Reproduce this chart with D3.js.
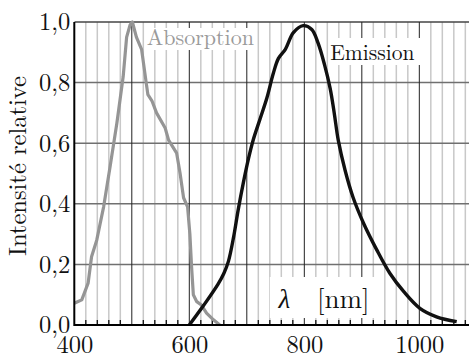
<!DOCTYPE html>
<html><head><meta charset="utf-8">
<script src="https://cdn.jsdelivr.net/npm/d3@7"></script>
<style>html,body{margin:0;padding:0;background:#fff;overflow:hidden}</style>
</head><body>
<svg id="c" width="469" height="354"></svg>
<script>
// ---- data ----
const absorptionNm  = [400,413,424,430,439,451,462,474,485,491,497,501,508,517,525,528,535,543,558,564,578,584,590,597,601,604,607,613,621,630,642,653];
const absorptionVal = [0.072,0.083,0.138,0.225,0.28,0.39,0.52,0.666,0.82,0.95,0.99,1.0,0.95,0.91,0.80,0.76,0.74,0.70,0.65,0.61,0.567,0.50,0.42,0.39,0.30,0.19,0.10,0.077,0.066,0.039,0.017,0.0];
const emissionNm  = [600,625,650,660,668,677,685,694,703,711,723,735,746,755,767,781,798,813,824,835,845,852,859,871,885,903,926,949,973,1001,1030,1065];
const emissionVal = [0,0.065,0.135,0.17,0.21,0.29,0.38,0.47,0.55,0.61,0.68,0.75,0.83,0.88,0.91,0.965,0.988,0.975,0.93,0.86,0.78,0.70,0.61,0.51,0.42,0.336,0.248,0.17,0.11,0.055,0.027,0.011];
const xTicks = [400,600,800,1000];
const yTicks = [0,0.2,0.4,0.6,0.8,1.0];
const yTickLabels = ["0,0","0,2","0,4","0,6","0,8","1,0"];
const labels = {absorption:"Absorption", emission:"Emission", yTitle:"Intensité relative", lambda:"λ", unit:"[nm]"};

// ---- layout ----
const FONT = '"Latin Modern Roman","Liberation Serif",serif';
const svg = d3.select("#c");
const x = d3.scaleLinear().domain([400,1085]).range([74.3,468.2]);
const y = d3.scaleLinear().domain([0,1]).range([325,22]);

svg.append("defs").append("clipPath").attr("id","clip")
  .append("rect").attr("x",x(400)).attr("y",0).attr("width",469-x(400)).attr("height",y(0)+1);

const g = svg.append("g").attr("clip-path","url(#clip)");

// minor vertical grid (every 20 nm)
const minor = d3.range(420,1090,20).filter(v=>v%100!==0);
g.selectAll(".minor").data(minor).enter().append("line")
  .attr("x1",d=>x(d)).attr("x2",d=>x(d)).attr("y1",y(1)).attr("y2",y(0))
  .attr("stroke","#c8c8c8").attr("stroke-width",1.5);
// horizontal grid
g.selectAll(".hg").data(yTicks.slice(1)).enter().append("line")
  .attr("x1",x(400)).attr("x2",469).attr("y1",d=>y(d)).attr("y2",d=>y(d))
  .attr("stroke",d=>d===1?"#444":"#707070").attr("stroke-width",1.5);
// major vertical grid (every 100 nm)
const major = d3.range(500,1100,100);
g.selectAll(".major").data(major).enter().append("line")
  .attr("x1",d=>x(d)).attr("x2",d=>x(d)).attr("y1",y(1)).attr("y2",y(0))
  .attr("stroke","#222").attr("stroke-width",1);
// bottom small ticks
g.selectAll(".tk").data(minor).enter().append("line")
  .attr("x1",d=>x(d)).attr("x2",d=>x(d)).attr("y1",y(0)).attr("y2",y(0)-5)
  .attr("stroke","#111").attr("stroke-width",1.3);

// white label boxes
function box(x0,y0,w,h){ g.append("rect").attr("x",x0).attr("y",y0).attr("width",w).attr("height",h).attr("fill","#fff"); }
box(x(524),28,106,22);
box(x(843),38,94,27);
box(x(740),277,106,41);

function txt(sel,size){ return sel.style("font-family",FONT).style("font-size",size+"px"); }
txt(g.append("text").attr("x",x(526)).attr("y",45),22).attr("fill","#9a9a9a").text(labels.absorption);
txt(g.append("text").attr("x",x(845)).attr("y",60),21.5).attr("fill","#111").text(labels.emission);
txt(g.append("text").attr("x",x(755)).attr("y",308),27).style("font-style","italic").attr("fill","#111").text(labels.lambda);
txt(g.append("text").attr("x",x(822)).attr("y",308),27).attr("fill","#111").text(labels.unit);

// curves
g.append("path").datum(absorptionNm.map((v,i)=>[v,absorptionVal[i]]))
  .attr("d",d3.line().x(d=>x(d[0])).y(d=>y(d[1])))
  .attr("fill","none").attr("stroke","#959595")
  .attr("stroke-width",3.2).attr("stroke-linejoin","round");
g.append("path").datum(emissionNm.map((v,i)=>[v,emissionVal[i]]))
  .attr("d",d3.line().x(d=>x(d[0])).y(d=>y(d[1])).curve(d3.curveCatmullRom.alpha(0.5)))
  .attr("fill","none").attr("stroke","#111").attr("stroke-width",3.4).attr("stroke-linejoin","round");

// axes
const xAxis = d3.axisBottom(x).tickValues(xTicks).tickSize(0).tickPadding(0).tickFormat(d3.format("d"));
const xa = svg.append("g").attr("transform",`translate(0,${y(0)})`).call(xAxis);
xa.select(".domain").attr("stroke","#000").attr("stroke-width",2).attr("d",`M${x(400)},0H469`);
txt(xa.selectAll("text"),24.5).attr("fill","#111").attr("dy",null).attr("y",28);

const yAxis = d3.axisLeft(y).tickValues(yTicks).tickSize(0).tickPadding(4).tickFormat((d,i)=>yTickLabels[i]);
const ya = svg.append("g").attr("transform",`translate(${x(400)},0)`).call(yAxis);
ya.select(".domain").attr("stroke","#000").attr("stroke-width",2).attr("d",`M0,${y(1)}V${y(0)+1}`);
txt(ya.selectAll("text"),24.5).attr("fill","#111");

txt(svg.append("text").attr("transform",`translate(26,166) rotate(-90)`).attr("text-anchor","middle"),24.5)
  .attr("fill","#111").text(labels.yTitle);
</script>
</body></html>
